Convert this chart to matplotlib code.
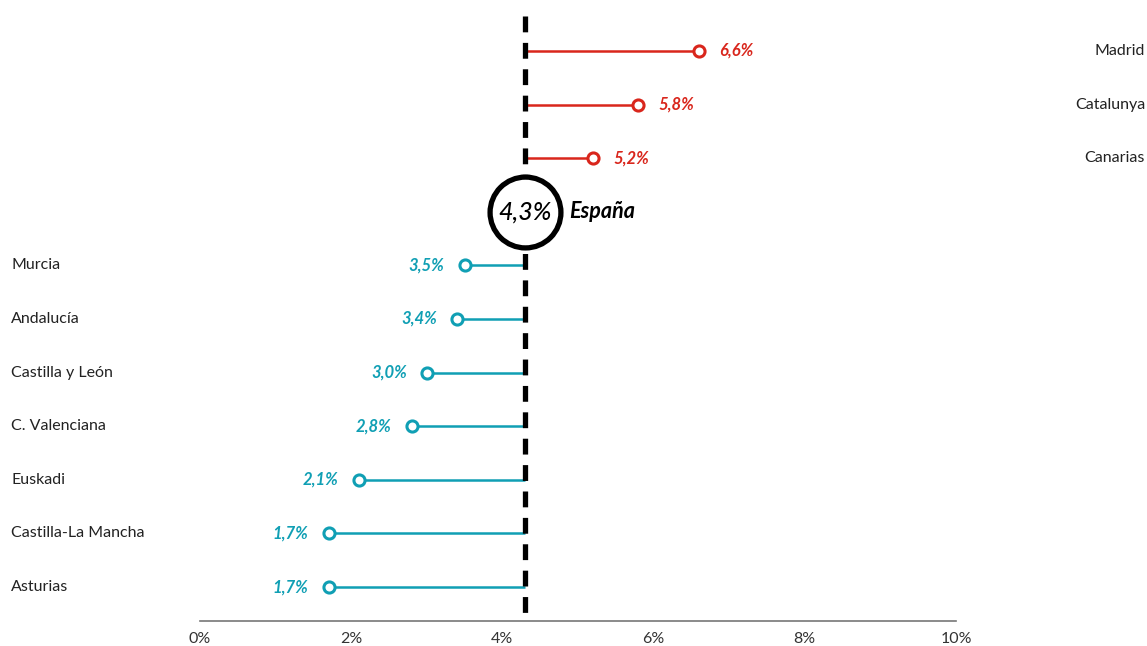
import matplotlib
matplotlib.use("Agg")
import matplotlib.pyplot as plt
import matplotlib.transforms as mtransforms

plt.rcParams['font.family'] = ['Lato', 'DejaVu Sans']

regions = ["Madrid", "Catalunya", "Canarias", "España", "Murcia", "Andalucía",
           "Castilla y León", "C. Valenciana", "Euskadi", "Castilla-La Mancha", "Asturias"]
values = [6.6, 5.8, 5.2, 4.3, 3.5, 3.4, 3.0, 2.8, 2.1, 1.7, 1.7]
national = 4.3
xticks = [0, 2, 4, 6, 8, 10]
xtick_labels = ["0%", "2%", "4%", "6%", "8%", "10%"]

RED = "#d9261c"
TEAL = "#109fb4"

fig = plt.figure(figsize=(11.47, 6.46), dpi=100)
ax = fig.add_axes([200 / 1147, 1 - 621 / 646, 756 / 1147, (621 - 16) / 646])
y_top, y_bottom = -0.653, 10.634
ax.set_xlim(0, 10)
ax.set_ylim(y_bottom, y_top)

for s in ["top", "right", "left"]:
    ax.spines[s].set_visible(False)
ax.spines["bottom"].set_color("#777777")
ax.spines["bottom"].set_linewidth(1.2)
ax.set_yticks([])
ax.set_xticks(xticks)
ax.set_xticklabels(xtick_labels, fontsize=11.5, color="#333333")
ax.tick_params(axis="x", length=0, pad=8)

fig_x = mtransforms.blended_transform_factory(fig.transFigure, ax.transData)

for i, (name, v) in enumerate(zip(regions, values)):
    if name == "España":
        continue
    color = RED if v > national else TEAL
    ax.plot([national, v], [i, i], color=color, lw=1.8, zorder=2, solid_capstyle="butt")
    ax.plot([v], [i], marker="o", ms=8, mfc="white", mec=color, mew=2.2, zorder=3)
    label = f"{v:.1f}%".replace(".", ",")
    if v > national:
        ax.annotate(label, (v, i), xytext=(14.4, 0), textcoords="offset points",
                    ha="left", va="center", color=color, fontsize=12,
                    fontweight="bold", fontstyle="italic")
        ax.text(1145 / 1147, i, name, transform=fig_x, ha="right", va="center",
                fontsize=11.5, color="#222222")
    else:
        ax.annotate(label, (v, i), xytext=(-14.4, 0), textcoords="offset points",
                    ha="right", va="center", color=color, fontsize=12,
                    fontweight="bold", fontstyle="italic")
        ax.text(11 / 1147, i, name, transform=fig_x, ha="left", va="center",
                fontsize=11.5, color="#222222")

# national average reference line, dash pattern starting from the top
ax.plot([national, national], [y_top, y_bottom], color="black", lw=3.8,
        dashes=(3, 2), zorder=4, clip_on=False)

ie = regions.index("España")
ax.plot([national], [ie], marker="o", ms=51, mfc="white", mec="black", mew=3.8, zorder=5)
ax.text(national, ie, f"{national:.1f}%".replace(".", ","), ha="center", va="center",
        fontsize=18, fontstyle="italic", fontweight="medium", color="black", zorder=6)
ax.annotate("España", (national, ie), xytext=(32, 0), textcoords="offset points",
            ha="left", va="center", fontsize=15.5, fontweight="bold",
            fontstyle="italic", color="black", zorder=6)

fig.savefig("out.png", dpi=100)
